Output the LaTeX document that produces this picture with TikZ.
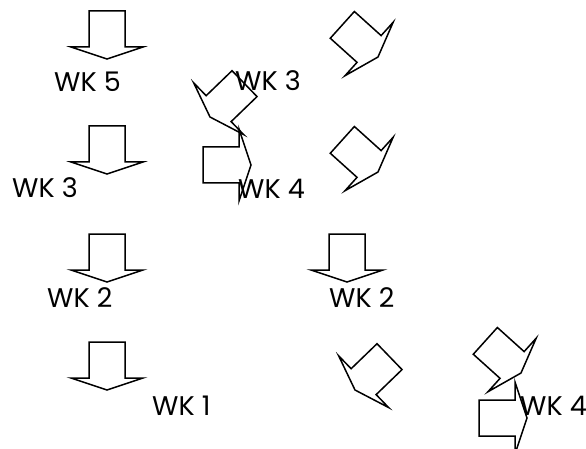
\documentclass[tikz,border=0pt]{standalone}
\usepackage{fontspec}
\setmainfont{Poppins}
\tikzset{
  arrowline/.style={draw=black, line width=1.5pt, line join=miter},
  blockarrow/.pic={\draw[arrowline] (0,0) -- (36,-12) -- (18,-12) -- (18,-48) -- (-18,-48) -- (-18,-12) -- (-36,-12) -- cycle;},
  wk/.style={anchor=base west, inner sep=0pt, font=\fontsize{27}{31}\selectfont}
}
\begin{document}
\begin{tikzpicture}[x=1pt,y=-1pt]
\useasboundingbox[fill=white] (0,0) rectangle (586,449);
% down arrows
\pic at (107,59) {blockarrow};
\pic at (107,174) {blockarrow};
\pic at (107,282) {blockarrow};
\pic at (107,390) {blockarrow};
\pic at (347,282) {blockarrow};
% right arrows
\pic[rotate=90] at (251,165) {blockarrow};
\pic[rotate=90] at (527,418) {blockarrow};
% rotated towards lower right
\pic[rotate=48] at (378,57) {blockarrow};
\pic[rotate=48] at (378,172) {blockarrow};
\pic[rotate=48] at (521,373) {blockarrow};
% rotated towards lower left
\pic[rotate=-46] at (210,117) {blockarrow};
\pic[rotate=-46] at (355,390) {blockarrow};
% labels
\node[wk] (l1) at (54,92) {WK 5};
\node[wk] (l2) at (235,91) {WK 3};
\node[wk] (l3) at (12,198) {WK 3};
\node[wk] (l4) at (238,199) {WK 4};
\node[wk] (l5) at (47,307) {WK 2};
\node[wk] (l6) at (329,307) {WK 2};
\node[wk] (l7) at (152,415) {WK 1};
\node[wk] (l8) at (520,415) {WK 4};
\end{tikzpicture}
\end{document}
